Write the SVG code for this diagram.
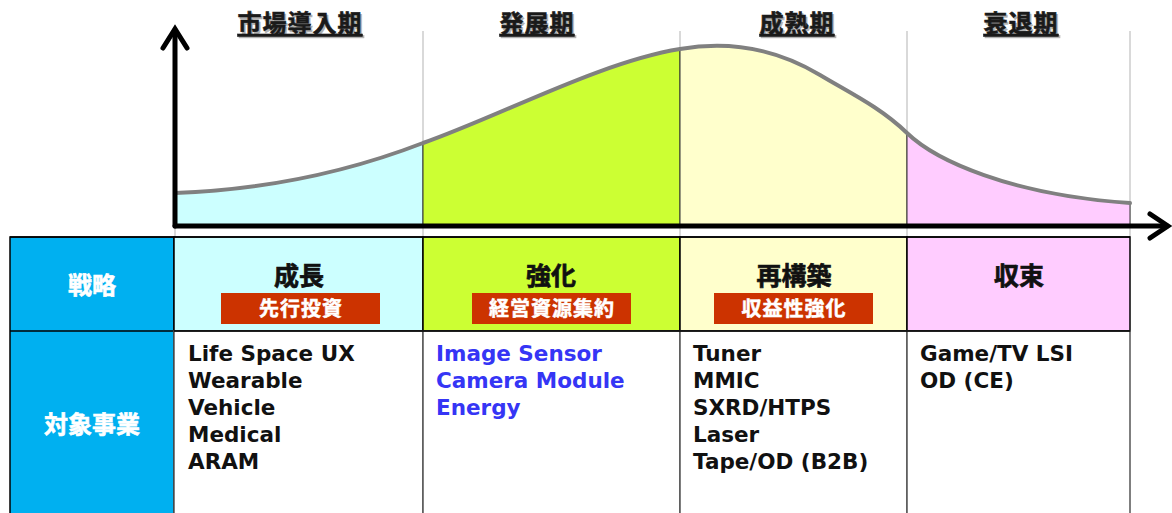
<svg xmlns="http://www.w3.org/2000/svg" width="1172" height="513" viewBox="0 0 1172 513">
<style>
.hdr{font-family:"Noto Sans CJK JP",sans-serif;font-weight:bold;font-size:24px;fill:#1a1a1a;stroke:#1a1a1a;stroke-width:0.6;text-anchor:middle;text-decoration:underline;letter-spacing:1px}
.hdrs{font-family:"Noto Sans CJK JP",sans-serif;font-weight:bold;font-size:24px;fill:#b0b0b0;stroke:#b0b0b0;stroke-width:0.6;text-anchor:middle;text-decoration:underline;letter-spacing:1px}
.side{font-family:"Noto Sans CJK JP",sans-serif;font-weight:bold;font-size:24px;fill:#fff;stroke:#fff;stroke-width:0.6;text-anchor:middle}
.strat{font-family:"Noto Sans CJK JP",sans-serif;font-weight:bold;font-size:25px;fill:#111;stroke:#111;stroke-width:0.7;text-anchor:middle}
.tag{font-family:"Noto Sans CJK JP",sans-serif;font-weight:bold;font-size:20px;fill:#fff;stroke:#fff;stroke-width:0.5;text-anchor:middle;letter-spacing:1px}
.biz{font-family:"DejaVu Sans","Liberation Sans",sans-serif;font-weight:bold;font-size:21.5px;fill:#111}
.blue{fill:#3535F5}
.grid{stroke:#c0c0c0;stroke-width:1.2;fill:none}
.area{stroke:#333;stroke-width:1}
.axis{stroke:#000;stroke-width:5;fill:none;stroke-linecap:round}
.cell1{stroke:#000;stroke-width:1.5}
.cell2{fill:#fff;stroke:#555;stroke-width:1.5}
.redbox{fill:#CC3300}
</style>

<g id="grid-lines">
<line class="grid" x1="423" y1="31" x2="423" y2="237"/>
<line class="grid" x1="680" y1="31" x2="680" y2="237"/>
<line class="grid" x1="907" y1="31" x2="907" y2="237"/>
<line class="grid" x1="1130" y1="31" x2="1130" y2="237"/>
<line class="grid" x1="175" y1="226" x2="175" y2="237"/>
</g>

<g id="phase-areas">
<path id="area-intro" class="area" fill="#CCFFFF" d="M175,193 C260,190 340,175 423,143 L423,226 L175,226 Z"/>
<path id="area-growth" class="area" fill="#CCFF33" d="M423,143 C500,116 600,62 680,49 L680,226 L423,226 Z"/>
<path id="area-mature" class="area" fill="#FFFFCC" d="M680,49 C720,42 770,45 820,75 C850,93 880,107 907,133 L907,226 L680,226 Z"/>
<path id="area-decline" class="area" fill="#FFCCFF" d="M907,133 C935,160 1010,195 1130,203 L1130,226 L907,226 Z"/>
</g>

<g id="curve">
<path d="M175,193 C260,190 340,175 423,143 C500,116 600,62 680,49 C720,42 770,45 820,75 C850,93 880,107 907,133 C935,160 1010,195 1130,203" fill="none" stroke="#808080" stroke-width="4" stroke-linecap="round"/>
</g>

<g id="axes">
<line class="axis" x1="175" y1="30" x2="175" y2="226"/>
<polyline class="axis" points="163,48 175,29 187,48"/>
<line class="axis" x1="175" y1="226" x2="1167" y2="226"/>
<polyline class="axis" points="1150,214 1168,226 1150,238"/>
</g>

<g id="phase-headers">
<g id="hdr-intro"><text class="hdrs" x="301.5" y="33.5">市場導入期</text><text class="hdr" x="300" y="32">市場導入期</text></g>
<g id="hdr-growth"><text class="hdrs" x="538.5" y="33.5">発展期</text><text class="hdr" x="537" y="32">発展期</text></g>
<g id="hdr-mature"><text class="hdrs" x="798.5" y="33.5">成熟期</text><text class="hdr" x="797" y="32">成熟期</text></g>
<g id="hdr-decline"><text class="hdrs" x="1022.5" y="33.5">衰退期</text><text class="hdr" x="1021" y="32">衰退期</text></g>
</g>

<g id="table">
<g id="side-col">
<rect x="10" y="237" width="164" height="280" fill="#00B0F0" stroke="#000" stroke-width="1.5"/>
<line x1="10" y1="331" x2="174" y2="331" stroke="#000" stroke-width="1.5"/>
<text class="side" x="92" y="294">戦略</text>
<text class="side" x="92" y="433">対象事業</text>
</g>

<g id="cell-intro-strategy">
<rect class="cell1" x="174" y="237" width="249" height="94" fill="#CCFFFF"/>
<text class="strat" x="299" y="285">成長</text>
<rect class="redbox" x="221" y="293" width="159" height="31"/>
<text class="tag" x="301" y="316">先行投資</text>
</g>
<g id="cell-growth-strategy">
<rect class="cell1" x="423" y="237" width="257" height="94" fill="#CCFF33"/>
<text class="strat" x="551" y="285">強化</text>
<rect class="redbox" x="472" y="293" width="159" height="31"/>
<text class="tag" x="552" y="316">経営資源集約</text>
</g>
<g id="cell-mature-strategy">
<rect class="cell1" x="680" y="237" width="227" height="94" fill="#FFFFCC"/>
<text class="strat" x="794" y="285">再構築</text>
<rect class="redbox" x="714" y="293" width="159" height="31"/>
<text class="tag" x="794" y="316">収益性強化</text>
</g>
<g id="cell-decline-strategy">
<rect class="cell1" x="907" y="237" width="223" height="94" fill="#FFCCFF"/>
<text class="strat" x="1019" y="285">収束</text>
</g>

<g id="cell-intro-biz">
<rect class="cell2" x="174" y="331" width="249" height="186"/>
<text class="biz" x="188" y="361">Life Space UX</text>
<text class="biz" x="188" y="388">Wearable</text>
<text class="biz" x="188" y="415">Vehicle</text>
<text class="biz" x="188" y="442">Medical</text>
<text class="biz" x="188" y="469">ARAM</text>
</g>
<g id="cell-growth-biz">
<rect class="cell2" x="423" y="331" width="257" height="186"/>
<text class="biz blue" x="436" y="361">Image Sensor</text>
<text class="biz blue" x="436" y="388">Camera Module</text>
<text class="biz blue" x="436" y="415">Energy</text>
</g>
<g id="cell-mature-biz">
<rect class="cell2" x="680" y="331" width="227" height="186"/>
<text class="biz" x="693" y="361">Tuner</text>
<text class="biz" x="693" y="388">MMIC</text>
<text class="biz" x="693" y="415">SXRD/HTPS</text>
<text class="biz" x="693" y="442">Laser</text>
<text class="biz" x="693" y="469">Tape/OD (B2B)</text>
</g>
<g id="cell-decline-biz">
<rect class="cell2" x="907" y="331" width="223" height="186"/>
<text class="biz" x="920" y="361">Game/TV LSI</text>
<text class="biz" x="920" y="388">OD (CE)</text>
</g>
<line x1="174" y1="331" x2="1130" y2="331" stroke="#000" stroke-width="1.5"/>
<line x1="10" y1="237" x2="1130" y2="237" stroke="#000" stroke-width="1.5"/>
</g>
</svg>
